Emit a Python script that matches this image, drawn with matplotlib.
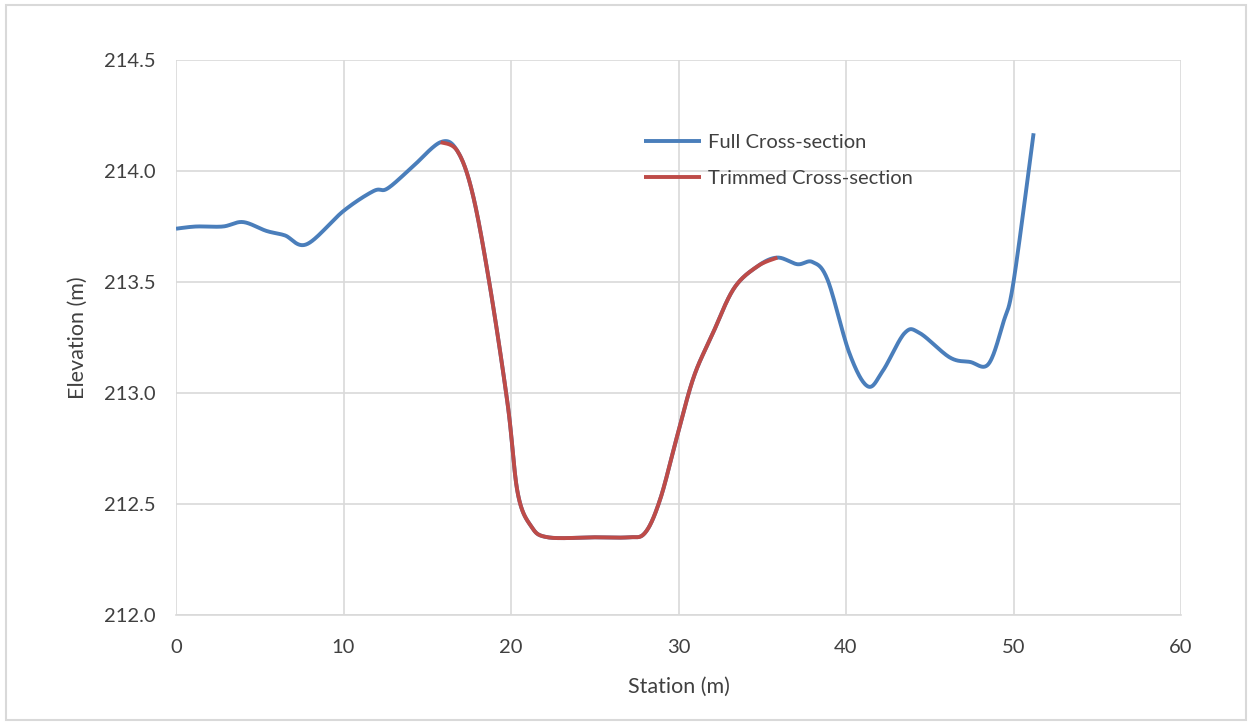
import numpy as np
import matplotlib.pyplot as plt
from matplotlib.patches import Rectangle

# cross-section survey points (station m, elevation m)
station = [0.0, 1.2, 2.8, 4.0, 5.4, 6.5, 7.8, 10.0, 11.8, 12.6, 14.0, 15.8,
           16.8, 17.7, 18.7, 19.8, 20.4, 21.2, 22.2, 25.0, 27.0, 28.0, 28.9,
           29.9, 30.9, 32.0, 33.3, 34.7, 35.9, 37.1, 38.0, 38.9, 40.2, 41.3,
           42.2, 43.5, 44.4, 46.2, 47.4, 48.5, 49.4, 50.0, 51.2]
elevation = [213.74, 213.75, 213.75, 213.77, 213.73, 213.71, 213.67, 213.82,
             213.91, 213.92, 214.01, 214.13, 214.09, 213.90, 213.50, 212.95,
             212.55, 212.40, 212.35, 212.35, 212.35, 212.37, 212.52, 212.80,
             213.07, 213.26, 213.47, 213.57, 213.61, 213.58, 213.59, 213.51,
             213.18, 213.03, 213.10, 213.27, 213.27, 213.16, 213.14, 213.13,
             213.32, 213.50, 214.17]
trim_start, trim_end = 15.8, 35.9

x_ticks = [0, 10, 20, 30, 40, 50, 60]
y_ticks = [212.0, 212.5, 213.0, 213.5, 214.0, 214.5]


def smooth(x, y, n=30):
    # excel-style smoothed line (catmull-rom through the points)
    x = np.asarray(x, float)
    y = np.asarray(y, float)
    px = np.concatenate([[x[0]], x, [x[-1]]])
    py = np.concatenate([[y[0]], y, [y[-1]]])
    t = np.linspace(0, 1, n)[:, None]
    xs, ys = [], []
    for i in range(1, len(px) - 2):
        p0, p1, p2, p3 = [np.array([px[j], py[j]]) for j in range(i - 1, i + 3)]
        c1 = p1 + (p2 - p0) / 6
        c2 = p2 - (p3 - p1) / 6
        seg = ((1 - t) ** 3) * p1 + 3 * ((1 - t) ** 2) * t * c1 + 3 * (1 - t) * t ** 2 * c2 + t ** 3 * p2
        xs.append(seg[:, 0])
        ys.append(seg[:, 1])
    return np.concatenate(xs), np.concatenate(ys)


plt.rcParams['font.family'] = ['Lato', 'DejaVu Sans']

fig = plt.figure(figsize=(12.49, 7.23), dpi=100)
fig.patches.append(Rectangle((6 / 1249, 3 / 723), 1240 / 1249, 715 / 723,
                             transform=fig.transFigure, fill=False,
                             edgecolor='#D9D9D9', linewidth=1.5))
ax = fig.add_axes([176 / 1249, 1 - 615 / 723, 1005 / 1249, 555 / 723])

fx, fy = smooth(station, elevation)
ax.plot(fx, fy, color='#4A7EBB', linewidth=2.8, label='Full Cross-section',
        solid_capstyle='butt', zorder=3)

ts = [s for s in station if trim_start <= s <= trim_end]
te = [e for s, e in zip(station, elevation) if trim_start <= s <= trim_end]
tx, ty = smooth(ts, te)
ax.plot(tx, ty, color='#BE4B48', linewidth=2.8, label='Trimmed Cross-section',
        solid_capstyle='butt', zorder=4)

ax.set_xlim(0, 60)
ax.set_ylim(212.0, 214.5)
ax.set_xticks(x_ticks)
ax.set_yticks(y_ticks)
ax.set_yticklabels([f'{v:.1f}' for v in y_ticks])
ax.tick_params(length=0, labelsize=14.5, colors='#404040')
ax.tick_params(axis='y', pad=15)
ax.tick_params(axis='x', pad=17)
ax.grid(True, color='#D9D9D9', linewidth=1.2)
ax.set_axisbelow(True)
for s in ['top', 'right', 'left']:
    ax.spines[s].set_visible(False)
ax.spines['bottom'].set_color('#D9D9D9')
ax.spines['bottom'].set_linewidth(1.2)

ax.set_xlabel('Station (m)', fontsize=15.5, color='#404040', labelpad=15)
ax.set_ylabel('Elevation (m)', fontsize=15.5, color='#404040', labelpad=11)

leg = ax.legend(loc='upper left', bbox_to_anchor=(626 / 1249, 1 - 116 / 723),
                bbox_transform=fig.transFigure, frameon=False, fontsize=14.5,
                handlelength=2.83, handletextpad=0.35, labelspacing=0.94)
for txt in leg.get_texts():
    txt.set_color('#404040')

fig.savefig('out.png', dpi=100)
